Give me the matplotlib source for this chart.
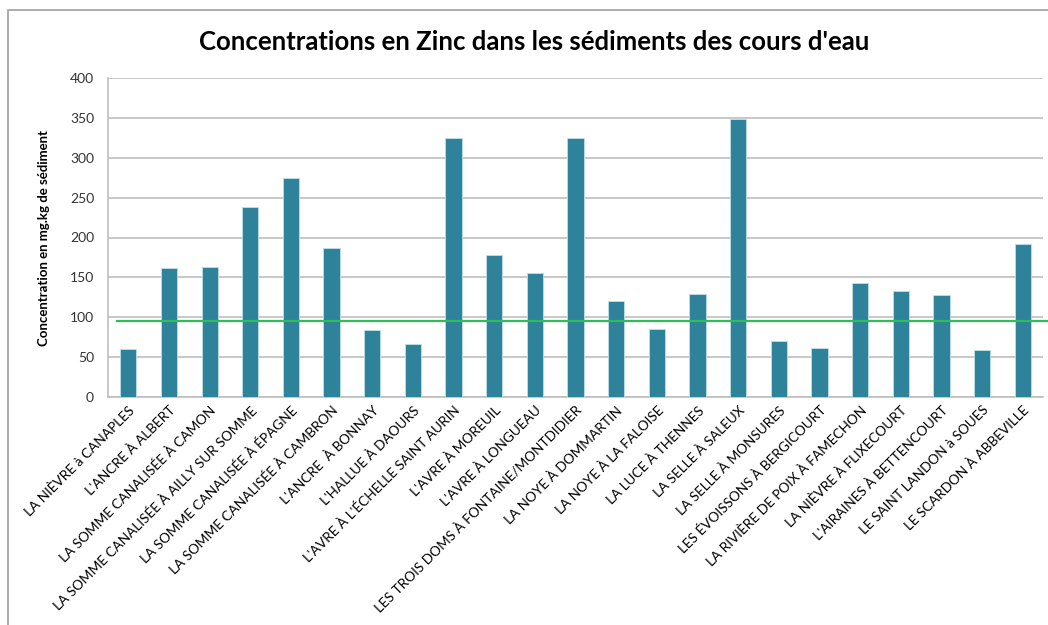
import matplotlib
matplotlib.use("Agg")
import matplotlib.pyplot as plt
from matplotlib.patches import Rectangle

stations = [
    "LA NIÈVRE à CANAPLES",
    "L'ANCRE À ALBERT",
    "LA SOMME CANALISÉE À CAMON",
    "LA SOMME CANALISÉE À AILLY SUR SOMME",
    "LA SOMME CANALISÉE À ÉPAGNE",
    "LA SOMME CANALISÉE À CAMBRON",
    "L'ANCRE  À BONNAY",
    "L'HALLUE À DAOURS",
    "L'AVRE À L'ÉCHELLE SAINT AURIN",
    "L'AVRE À MOREUIL",
    "L'AVRE À LONGUEAU",
    "LES TROIS DOMS À FONTAINE/MONTDIDIER",
    "LA NOYE À DOMMARTIN",
    "LA NOYE À LA FALOISE",
    "LA LUCE À THENNES",
    "LA SELLE À SALEUX",
    "LA SELLE À MONSURES",
    "LES ÉVOISSONS À BERGICOURT",
    "LA RIVIÈRE DE POIX À FAMECHON",
    "LA NIÈVRE À FLIXECOURT",
    "L'AIRAINES À BETTENCOURT",
    "LE SAINT LANDON à SOUES",
    "LE SCARDON À ABBEVILLE",
]
zinc = [60, 162, 163, 238, 274, 187, 84, 67, 325, 178, 155,
        325, 120, 85, 129, 348, 70, 61, 143, 133, 128, 59, 192]
seuil = 95
yticks = [0, 50, 100, 150, 200, 250, 300, 350, 400]

plt.rcParams['font.family'] = ['Lato', 'DejaVu Sans']

fig = plt.figure(figsize=(10.48, 6.25), dpi=100)
ax = fig.add_axes([108 / 1048, 1 - 397 / 625, 935 / 1048, 319 / 625])

x = range(len(stations))
ax.bar(x, zinc, width=0.4, color="#2E8299", edgecolor="#BFE0EA", linewidth=0.6, zorder=3)
ax.axhline(seuil, xmin=0.01, xmax=1.01, color="#2DBE5A", linewidth=1.6, zorder=4, clip_on=False)

ax.set_xlim(-0.5, len(stations) - 0.5)
ax.set_ylim(0, 400)
ax.set_yticks(yticks)
ax.tick_params(axis="y", length=0, labelsize=10, pad=10, colors="#333333")
ax.tick_params(axis="x", length=0, pad=5)
ax.set_xticks(list(x))
ax.set_xticklabels(stations, rotation=45, ha="right", rotation_mode="anchor", fontsize=9.8)
ax.yaxis.grid(True, color="#BFBFBF", linewidth=1.2, zorder=0)
for s in ["top", "right"]:
    ax.spines[s].set_visible(False)
ax.spines["left"].set_color("#BFBFBF")
ax.spines["bottom"].set_color("#BFBFBF")
ax.spines["left"].set_linewidth(1.2)
ax.spines["bottom"].set_linewidth(1.2)

ax.set_ylabel("Concentration en mg.kg de sédiment", fontsize=9.5, fontweight="bold", labelpad=14)

fig.text(0.51, 0.932, "Concentrations en Zinc dans les sédiments des cours d'eau",
         ha="center", va="center", fontsize=18.5, fontweight="bold")

fig.patches.append(Rectangle((8 / 1048, -0.1), 1.2, 1.1 - 10 / 625, transform=fig.transFigure,
                             fill=False, edgecolor="#A0A0A0", linewidth=1.2))

fig.savefig("out.png", dpi=100)
